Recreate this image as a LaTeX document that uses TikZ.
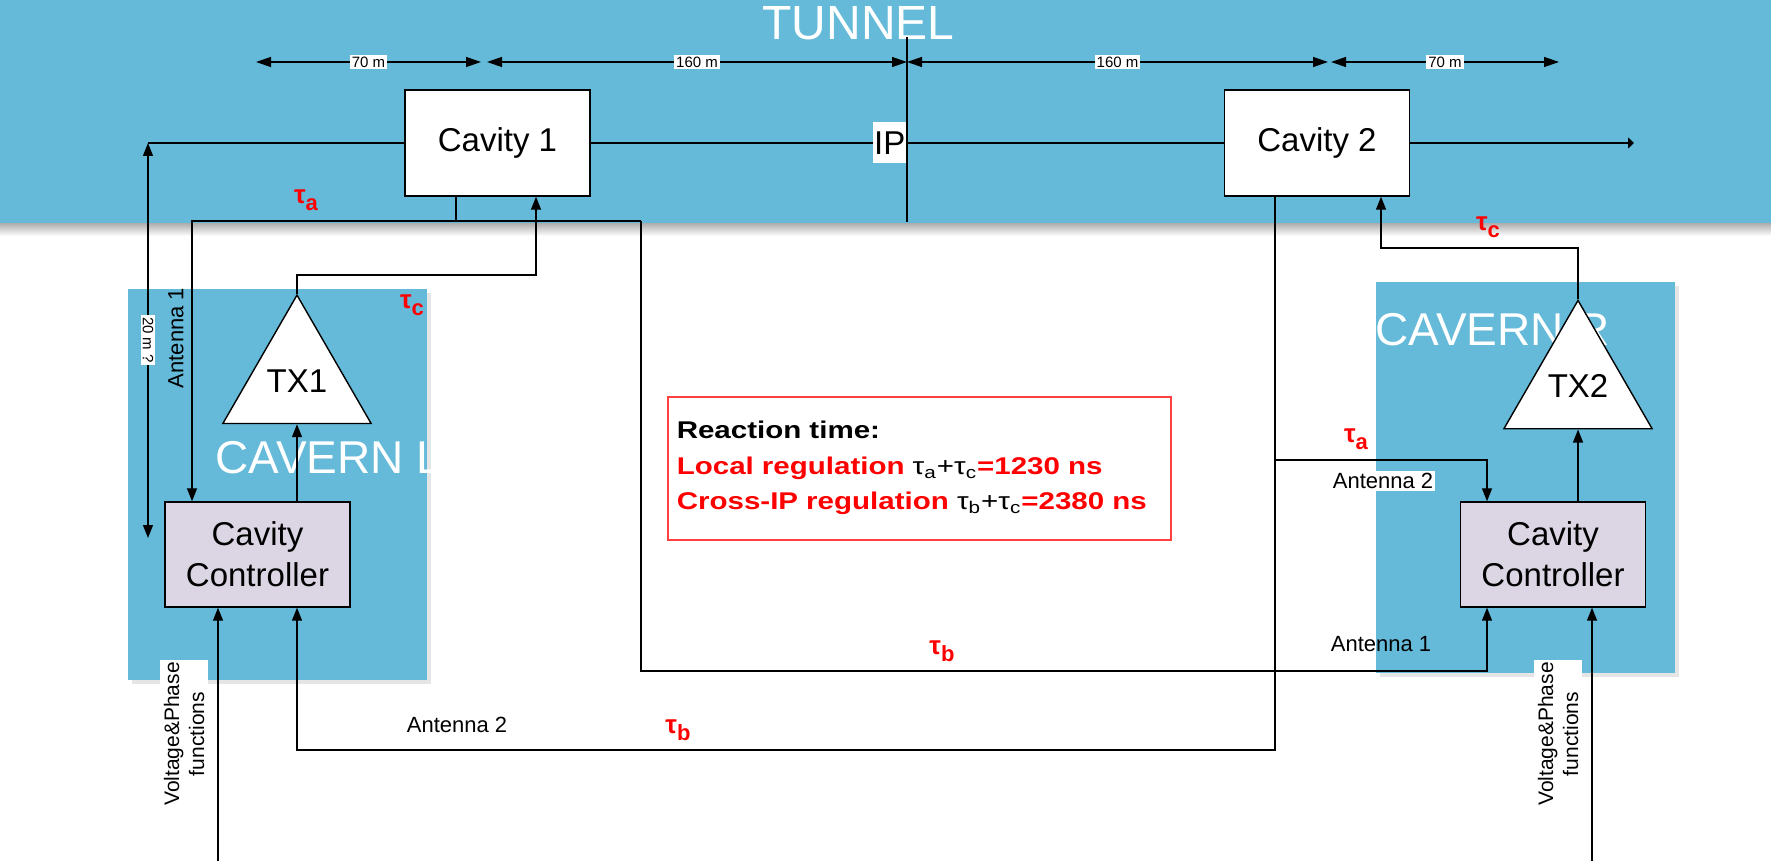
\documentclass[tikz,border=0pt]{standalone}
\usepackage{fontspec}
\setmainfont{Liberation Sans}
\newfontfamily\rxWideFont[FakeStretch=1.22]{Liberation Sans}
\usetikzlibrary{arrows.meta,shapes.geometric,shadows}
\definecolor{rxBlue}{RGB}{100,186,216}
\definecolor{rxLilac}{RGB}{220,214,228}
\definecolor{rxRed}{RGB}{255,0,0}
\definecolor{rxBoxRed}{RGB}{255,64,64}
\newcommand{\rxSize}[1]{\fontsize{#1}{#1}\selectfont}
\newcommand{\rxTau}[1]{{\rxSize{13}\bfseries τ\raisebox{-3.5pt}{\rxSize{11}#1}}}

\begin{document}
\begin{tikzpicture}[x=0.5pt,y=-0.5pt,line width=0.65pt,
  every node/.style={inner sep=0pt},
  zone/.style={fill=rxBlue, drop shadow={shadow xshift=2pt, shadow yshift=-2pt, opacity=0.2}},
  zonetitle/.style={anchor=base west, text=white, font=\rxSize{23}},
  cavbox/.style={draw, line width=0.7pt, fill=white, minimum width=92.5pt, minimum height=53pt, font=\rxSize{16.5}},
  ctrlbox/.style={draw, line width=0.7pt, fill=rxLilac, minimum width=92.5pt, minimum height=52.5pt, align=center, font=\fontsize{16.5}{20.5}\selectfont},
  txamp/.style={draw, line width=0.7pt, fill=white, regular polygon, regular polygon sides=3, minimum size=83.7pt, font=\rxSize{16.5}},
  sig/.style={-{Triangle[length=6.5pt,width=5pt]}},
  sigboth/.style={{Triangle[length=6.5pt,width=5pt]}-{Triangle[length=6.5pt,width=5pt]}},
  dim/.style={{Triangle[length=7.5pt,width=5pt]}-{Triangle[length=7.5pt,width=5pt]}},
  dimlbl/.style={fill=white, font=\rxSize{7.5}, inner sep=1pt},
  lbl/.style={font=\rxSize{11}},
  taulbl/.style={text=rxRed},
  vpbox/.style={fill=white, rotate=90, align=center, font=\fontsize{10.5}{12.5}\selectfont, inner xsep=1pt, inner ysep=2pt}]
\path[use as bounding box, fill=white] (0,0) rectangle (1771,861);
\shade[top color=black!35, bottom color=white] (0,222) rectangle (1771,236);
\fill[rxBlue] (0,0) rectangle (1771,223);
\fill[zone] (128,289) rectangle (427,680);
\fill[zone] (1376,282) rectangle (1675,673);
\node[zonetitle, font=\rxSize{24}] (tunnel) at (762,40) {TUNNEL};
\node[zonetitle] (cavernL) at (215,473) {CAVERN L};
\node[zonetitle] (cavernR) at (1375,345) {CAVERN R};

\node[cavbox] (cav1) at (497.5,143) {Cavity 1};
\node[cavbox] (cav2) at (1317,143) {Cavity 2};
\node[txamp] (tx1) at (297,380.7) {TX1};
\node[txamp] (tx2) at (1578,386) {TX2};
\node[ctrlbox] (ctrl1) at (257.5,554.5) {Cavity\\Controller};
\node[ctrlbox] (ctrl2) at (1553,554.5) {Cavity\\Controller};

\coordinate (beamS) at (148,143);
\coordinate (beamE) at (1634,143);
\coordinate (ipT) at (907,37);
\coordinate (ipB) at (907,222);
\coordinate (hgtB) at (148,538);
\draw (beamS) -- (cav1.west);
\draw (cav1.east) -- (cav2.west);
\draw[-{Triangle[length=3pt,width=5.5pt]}] (cav2.east) -- (beamE);
\draw (ipT) -- (ipB);
\node[fill=white, anchor=east, minimum height=20.5pt, inner xsep=0.5pt, font=\rxSize{16.5}] (ip) at (907,143) {IP};
\draw[sigboth] (beamS) -- (hgtB);
\node[dimlbl, rotate=-90] (hgt) at (148,340) {20 m ?};

\coordinate (d0) at (256,62);
\coordinate (d1a) at (481,62);
\coordinate (d1b) at (487,62);
\coordinate (d2) at (907,62);
\coordinate (d3a) at (1328,62);
\coordinate (d3b) at (1331,62);
\coordinate (d4) at (1559,62);
\draw[dim] (d0) -- node[dimlbl] (dimA) {70 m} (d1a);
\draw[dim] (d1b) -- node[dimlbl] (dimB) {160 m} (d2);
\draw[dim] (d2) -- node[dimlbl] (dimC) {160 m} (d3a);
\draw[dim] (d3b) -- node[dimlbl] (dimD) {70 m} (d4);

\coordinate (tapL) at (456,221);
\coordinate (antLa) at (192,221);
\coordinate (antLb) at (641,221);
\coordinate (antLc) at (641,671);
\coordinate (antLd) at (1487,671);
\draw (cav1.south -| tapL) -- (tapL);
\draw[sig] (antLb) -- (antLa) -- (antLa |- ctrl1.north);
\draw[sig] (antLb) -- (antLc) -- (antLd) -- (antLd |- ctrl2.south);

\coordinate (tapR) at (1275,460);
\coordinate (tapRb) at (1275,750);
\draw[sig] (cav2.south -| tapR) -- (tapRb) -| (ctrl1.south -| tx1.south);
\draw[sig] (tapR) -| (ctrl2.north -| antLd);

\coordinate (txoL) at (536,275);
\coordinate (txoR) at (1381,248);
\draw[sig] (tx1.corner 1) |- (txoL) -- (txoL |- cav1.south);
\draw[sig] (tx2.corner 1) |- (txoR) -- (txoR |- cav2.south);
\draw[sig] (ctrl1.north -| tx1.south) -- (tx1.south);
\draw[sig] (ctrl2.north -| tx2.south) -- (tx2.south);

\coordinate (vpL) at (218,861);
\coordinate (vpR) at (1592,861);
\draw[sig] (vpL) -- (vpL |- ctrl1.south);
\draw[sig] (vpR) -- (vpR |- ctrl2.south);
\node[vpbox] (vpLbl) at (184,734) {Voltage\&Phase\\functions};
\node[vpbox] (vpRbl) at (1558,734) {Voltage\&Phase\\functions};

\node[lbl, rotate=90] (antL1) at (176,338) {Antenna 1};
\node[lbl, fill=white, inner sep=1pt] (antR2) at (1383,481) {Antenna 2};
\node[lbl] (antR1) at (1381,644) {Antenna 1};
\node[lbl] (antL2) at (457,725) {Antenna 2};

\node[taulbl] (tauA1) at (306,200) {\rxTau{a}};
\node[taulbl] (tauC1) at (412,305) {\rxTau{c}};
\node[taulbl] (tauC2) at (1488,227) {\rxTau{c}};
\node[taulbl] (tauA2) at (1356,439) {\rxTau{a}};
\node[taulbl] (tauB1) at (942,651) {\rxTau{b}};
\node[taulbl] (tauB2) at (678,730) {\rxTau{b}};

\node[draw=rxBoxRed, line width=0.75pt, anchor=north west, text width=242.5pt, minimum height=71.5pt, inner xsep=4.5pt, align=left, font=\rxWideFont\fontsize{12.1}{17.75}\selectfont] (react) at (667,396) {\textbf{Reaction time:}\\
\textcolor{rxRed}{\textbf{Local regulation}} τ\textsubscript{a}+τ\textsubscript{c}\textcolor{rxRed}{\textbf{=1230 ns}}\\
\textcolor{rxRed}{\textbf{Cross-IP regulation}} τ\textsubscript{b}+τ\textsubscript{c}\textcolor{rxRed}{\textbf{=2380 ns}}};
\end{tikzpicture}
\end{document}
